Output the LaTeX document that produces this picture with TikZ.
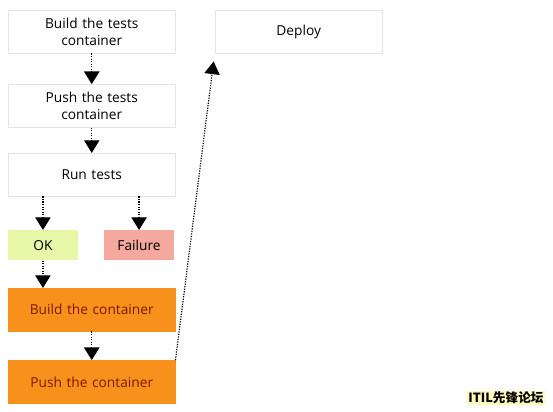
\documentclass[tikz,border=0pt]{standalone}
\usepackage{fontspec}
\setmainfont{Open Sans}
\newfontfamily\cjkfont{Noto Sans CJK SC}
\usetikzlibrary{arrows.meta,positioning}
\definecolor{edgeGray}{RGB}{228,228,228}
\definecolor{okGreen}{RGB}{232,246,168}
\definecolor{failRed}{RGB}{245,168,158}
\definecolor{shipOrange}{RGB}{248,144,28}
\definecolor{shipText}{RGB}{122,26,0}
\definecolor{markYellow}{RGB}{250,240,60}
\tikzset{
  stageBox/.style={rectangle,draw=edgeGray,fill=white,line width=0.6pt,
                   minimum width=125pt,minimum height=32pt,text width=115pt,
                   align=center,font=\fontsize{10.3}{12.5}\selectfont,inner sep=0pt},
  resultBox/.style={rectangle,fill=#1,minimum width=52pt,minimum height=22.5pt,
                    font=\fontsize{10.3}{12.5}\selectfont,inner sep=0pt},
  shipBox/.style={stageBox,draw=shipOrange,fill=shipOrange,text=shipText},
  flowArrow/.style={-{Triangle[length=9.5pt,width=11.5pt]},densely dotted,line width=0.9pt},
}
\begin{document}
\begin{tikzpicture}[x=0.75pt,y=-0.75pt]
  \useasboundingbox (0,0) rectangle (553,411);
  \node[stageBox,anchor=north west](bTests) at (8,10){Build the tests\\container};
  \node[stageBox,below=23pt of bTests](pTests){Push the tests\\container};
  \node[stageBox,below=19pt of pTests](run){Run tests};
  \node[resultBox=okGreen,anchor=north west](ok) at (8,230){OK};
  \node[resultBox=failRed,anchor=north east](fail) at (174,230){Failure};
  \node[shipBox,anchor=north west](bShip) at (8,288){Build the container};
  \node[shipBox,below=21.5pt of bShip](pShip){Push the container};
  \node[stageBox,anchor=north west](deploy) at (215,10){\raisebox{-2pt}{Deploy}};
  \foreach \x/\y in {bTests/pTests,pTests/run}{\draw[flowArrow](\x)--(\y);}
  \draw[flowArrow](ok.north|-run.south)--(ok);
  \draw[flowArrow](fail.north|-run.south)--(fail);
  \draw[flowArrow](ok.south)--(ok.south|-bShip.north);
  \draw[flowArrow](bShip)--(pShip);
  \draw[flowArrow](pShip.north east)--([xshift=-1pt,yshift=-6pt]deploy.south west);
  \node[font=\cjkfont\bfseries\fontsize{9.5}{11}\selectfont,text=black,
        fill=markYellow!35,inner sep=1pt](mark) at (506,398){ITIL先锋论坛};
\end{tikzpicture}
\end{document}
